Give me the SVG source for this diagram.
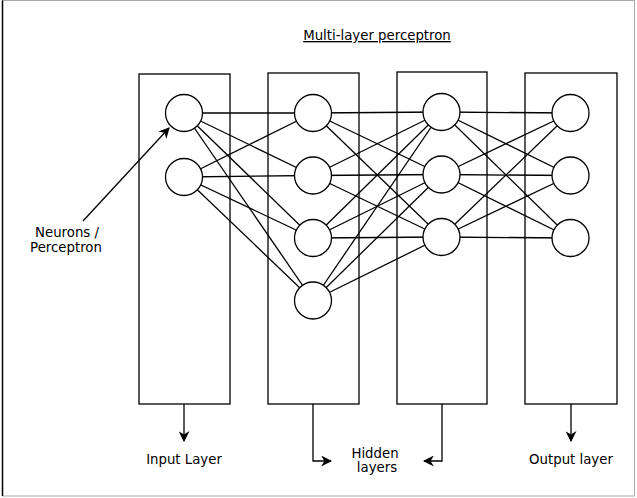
<svg xmlns="http://www.w3.org/2000/svg" width="637" height="498" viewBox="0 0 637 498">
<style>
.box{fill:none;stroke:#000;stroke-width:1.3}
.n{fill:#fff;stroke:#000;stroke-width:1.3}
.c{stroke:#000;stroke-width:1.3;fill:none}
.t{font-family:"DejaVu Sans","Liberation Sans",sans-serif;font-size:13.3px;fill:#000;text-anchor:middle}
</style>
<defs>
<marker id="ah" viewBox="0 0 10 10" refX="9" refY="5" markerWidth="11" markerHeight="11" markerUnits="userSpaceOnUse" orient="auto">
<path d="M0,0 L10,5 L0,10 L3,5 Z" fill="#000"/>
</marker>
</defs>
<rect width="637" height="498" fill="#fff"/>
<rect x="2.5" y="0.5" width="632" height="495.5" fill="none" stroke="#aaa" stroke-width="1"/>
<line x1="2.5" y1="0.5" x2="2.5" y2="496" stroke="#000" stroke-width="1.5"/>

<text class="t" x="377" y="40" text-decoration="underline">Multi-layer perceptron</text>

<g id="input-layer"><rect class="box" x="139" y="74" width="91" height="330"/></g>
<g id="hidden-layer-1"><rect class="box" x="268" y="73" width="91" height="331"/></g>
<g id="hidden-layer-2"><rect class="box" x="397" y="72" width="90" height="332"/></g>
<g id="output-layer"><rect class="box" x="525" y="73" width="92" height="331"/></g>

<g id="connectors" class="c">
<line x1="184" y1="113" x2="313" y2="113"/>
<line x1="184" y1="113" x2="313" y2="175.5"/>
<line x1="184" y1="113" x2="313" y2="238"/>
<line x1="184" y1="113" x2="313" y2="300.5"/>
<line x1="184" y1="177" x2="313" y2="113"/>
<line x1="184" y1="177" x2="313" y2="175.5"/>
<line x1="184" y1="177" x2="313" y2="238"/>
<line x1="184" y1="177" x2="313" y2="300.5"/>
<line x1="313" y1="113" x2="441.5" y2="112"/>
<line x1="313" y1="113" x2="441.5" y2="174.5"/>
<line x1="313" y1="113" x2="441.5" y2="237"/>
<line x1="313" y1="175.5" x2="441.5" y2="112"/>
<line x1="313" y1="175.5" x2="441.5" y2="174.5"/>
<line x1="313" y1="175.5" x2="441.5" y2="237"/>
<line x1="313" y1="238" x2="441.5" y2="112"/>
<line x1="313" y1="238" x2="441.5" y2="174.5"/>
<line x1="313" y1="238" x2="441.5" y2="237"/>
<line x1="313" y1="300.5" x2="441.5" y2="112"/>
<line x1="313" y1="300.5" x2="441.5" y2="174.5"/>
<line x1="313" y1="300.5" x2="441.5" y2="237"/>
<line x1="441.5" y1="112" x2="570.5" y2="113"/>
<line x1="441.5" y1="112" x2="570.5" y2="175.5"/>
<line x1="441.5" y1="112" x2="570.5" y2="238"/>
<line x1="441.5" y1="174.5" x2="570.5" y2="113"/>
<line x1="441.5" y1="174.5" x2="570.5" y2="175.5"/>
<line x1="441.5" y1="174.5" x2="570.5" y2="238"/>
<line x1="441.5" y1="237" x2="570.5" y2="113"/>
<line x1="441.5" y1="237" x2="570.5" y2="175.5"/>
<line x1="441.5" y1="237" x2="570.5" y2="238"/>
<line x1="83" y1="221" x2="169" y2="128" marker-end="url(#ah)"/>
<line x1="184" y1="404" x2="184" y2="441" marker-end="url(#ah)"/>
<line x1="571" y1="404" x2="571" y2="441" marker-end="url(#ah)"/>
<path d="M313,404 V461 H331" marker-end="url(#ah)"/>
<path d="M442,404 V461 H424" marker-end="url(#ah)"/>
</g>

<g id="i1"><circle class="n" cx="184" cy="113" r="18.5"/></g>
<g id="i2"><circle class="n" cx="184" cy="177" r="18.5"/></g>
<g id="h1a"><circle class="n" cx="313" cy="113" r="18.5"/></g>
<g id="h1b"><circle class="n" cx="313" cy="175.5" r="18.5"/></g>
<g id="h1c"><circle class="n" cx="313" cy="238" r="18.5"/></g>
<g id="h1d"><circle class="n" cx="313" cy="300.5" r="18.5"/></g>
<g id="h2a"><circle class="n" cx="441.5" cy="112" r="18.5"/></g>
<g id="h2b"><circle class="n" cx="441.5" cy="174.5" r="18.5"/></g>
<g id="h2c"><circle class="n" cx="441.5" cy="237" r="18.5"/></g>
<g id="o1"><circle class="n" cx="570.5" cy="113" r="18.5"/></g>
<g id="o2"><circle class="n" cx="570.5" cy="175.5" r="18.5"/></g>
<g id="o3"><circle class="n" cx="570.5" cy="238" r="18.5"/></g>

<g id="labels">
<text class="t" x="67" y="237">Neurons /</text>
<text class="t" x="66" y="252">Perceptron</text>
<text class="t" x="184" y="464">Input Layer</text>
<text class="t" x="375" y="458">Hidden</text>
<text class="t" x="377" y="472">layers</text>
<text class="t" x="571" y="464">Output layer</text>
</g>
</svg>
